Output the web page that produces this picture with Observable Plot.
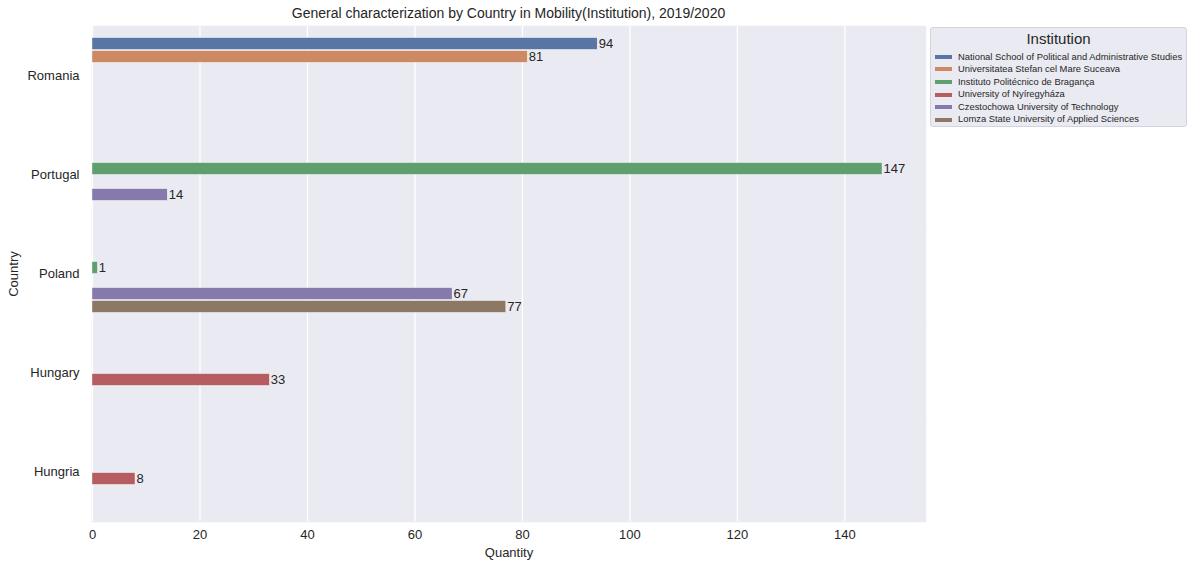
<!DOCTYPE html>
<html>
<head>
<meta charset="utf-8">
<script src="https://cdn.jsdelivr.net/npm/d3@7"></script>
<script src="https://cdn.jsdelivr.net/npm/@observablehq/plot@0.6"></script>
<style>
  body { margin: 0; background: #fff; font-family: "Liberation Sans", Arial, sans-serif; }
  #wrap { position: relative; width: 1187px; height: 565px; }
  #title { height: 22px; line-height: 26px; width: 833px; margin-left: 92px; text-align: center; font-size: 14px; color: #262626; }
  #legend { position: absolute; left: 930px; top: 27px; width: 257px; height: 100px; background: #eaeaf2; border: 1px solid #d4d4dc; border-radius: 3px; box-sizing: border-box; font-size: 9.4px; color: #262626; }
  #legend .lt { text-align: center; font-size: 15px; line-height: 20px; margin-top: 1px; margin-bottom: 1.5px; }
  #legend .it { height: 12.6px; line-height: 12.6px; display: flex; align-items: center; padding-left: 4px; }
  #legend .sw { width: 17px; height: 4px; margin-right: 6px; }
</style>
</head>
<body>
<div id="wrap">
  <div id="title">General characterization by Country in Mobility(Institution), 2019/2020</div>
  <div id="chart"></div>
  <div id="legend"></div>
</div>
<script>
const countries = ["Romania", "Portugal", "Poland", "Hungary", "Hungria"];
const institutions = [
  "National School of Political and Administrative Studies",
  "Universitatea Stefan cel Mare Suceava",
  "Instituto Politécnico de Bragança",
  "University of Nyíregyháza",
  "Czestochowa University of Technology",
  "Lomza State University of Applied Sciences"
];
const colors = ["#5975a4", "#cc8963", "#5f9e6e", "#b55d60", "#857aab", "#8d7866"];
const xTicks = [0, 20, 40, 60, 80, 100, 120, 140];

const rowCountry = ["Romania", "Romania", "Portugal", "Portugal", "Poland", "Poland", "Poland", "Hungary", "Hungria"];
const rowInstitution = [
  "National School of Political and Administrative Studies",
  "Universitatea Stefan cel Mare Suceava",
  "Instituto Politécnico de Bragança",
  "Czestochowa University of Technology",
  "Instituto Politécnico de Bragança",
  "Czestochowa University of Technology",
  "Lomza State University of Applied Sciences",
  "University of Nyíregyháza",
  "University of Nyíregyháza"
];
const rowQuantity = [94, 81, 147, 14, 1, 67, 77, 33, 8];

const data = rowCountry.map((c, i) => ({country: c, institution: rowInstitution[i], quantity: rowQuantity[i]}));

const chart = Plot.plot({
  width: 1187,
  height: 543,
  marginTop: 3,
  marginBottom: 43,
  marginLeft: 92,
  marginRight: 262,
  style: {fontFamily: "Liberation Sans, Arial, sans-serif", fontSize: "13px", color: "#262626", background: "transparent"},
  facet: {data, y: "country"},
  fy: {domain: countries, padding: 0, axis: "left", label: "Country", labelAnchor: "center", labelOffset: 84, tickSize: 0, tickPadding: 13},
  y: {domain: institutions, paddingInner: 0, paddingOuter: 0.75, axis: null},
  x: {domain: [0, 155], ticks: xTicks, tickSize: 0, tickPadding: 8, label: "Quantity", labelArrow: false, labelAnchor: "center", labelOffset: 35},
  color: {domain: institutions, range: colors},
  marks: [
    Plot.frame({fill: "#eaeaf2", stroke: "#eaeaf2", strokeWidth: 1.5}),
    Plot.ruleX(xTicks, {stroke: "white", strokeWidth: 1.3}),
    Plot.barX(data, {x: "quantity", y: "institution", fill: "institution", insetTop: 0.6, insetBottom: 0.6, stroke: "white", strokeWidth: 0.4}),
    Plot.text(data, {x: "quantity", y: "institution", text: d => String(d.quantity), textAnchor: "start", dx: 1, fontSize: 13, fill: "#262626"})
  ]
});
document.getElementById("chart").appendChild(chart);

const leg = document.getElementById("legend");
const lt = document.createElement("div");
lt.className = "lt"; lt.textContent = "Institution";
leg.appendChild(lt);
institutions.forEach((name, i) => {
  const it = document.createElement("div"); it.className = "it";
  const sw = document.createElement("span"); sw.className = "sw"; sw.style.background = colors[i];
  const tx = document.createElement("span"); tx.textContent = name;
  it.appendChild(sw); it.appendChild(tx); leg.appendChild(it);
});
</script>
</body>
</html>
